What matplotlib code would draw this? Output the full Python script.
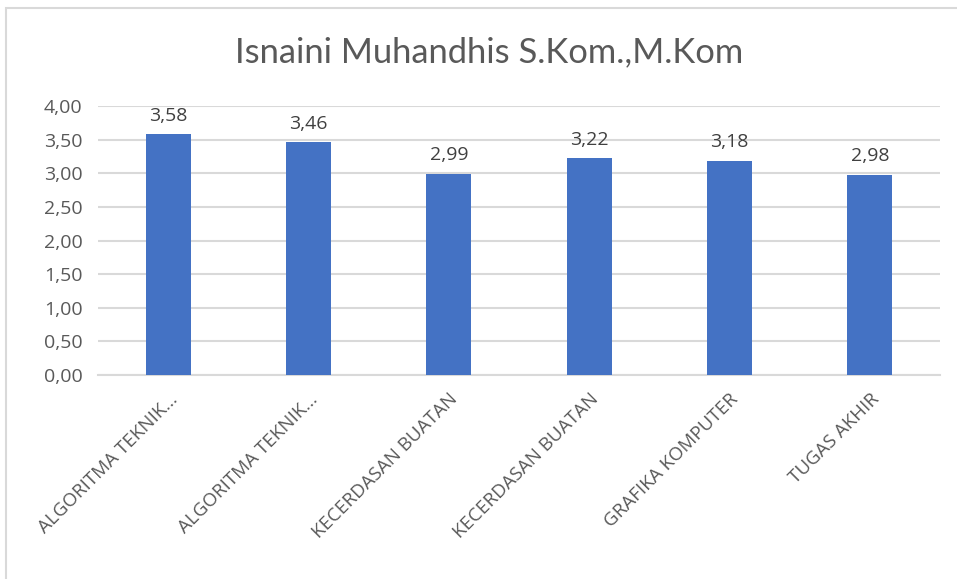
"""Bar chart of average scores per course for one lecturer."""

import matplotlib.pyplot as plt
from matplotlib.patches import Rectangle

title = "Isnaini Muhandhis S.Kom.,M.Kom"
courses = [
    "ALGORITMA TEKNIK...",
    "ALGORITMA TEKNIK...",
    "KECERDASAN BUATAN",
    "KECERDASAN BUATAN",
    "GRAFIKA KOMPUTER",
    "TUGAS AKHIR",
]
scores = [3.58, 3.46, 2.99, 3.22, 3.18, 2.98]
yticks = [0.0, 0.5, 1.0, 1.5, 2.0, 2.5, 3.0, 3.5, 4.0]

plt.rcParams["font.family"] = ["Open Sans", "DejaVu Sans"]

fig = plt.figure(figsize=(9.57, 5.79), dpi=100)
ax = fig.add_axes([0.1024, 0.3523, 0.8798, 0.4646])

x = range(len(courses))
bars = ax.bar(x, scores, width=0.32, color="#4472C4", zorder=3)

for b, v in zip(bars, scores):
    ax.annotate(f"{v:.2f}".replace(".", ","),
                (b.get_x() + b.get_width() / 2, v),
                xytext=(0, 7), textcoords="offset points",
                ha="center", va="bottom", fontsize=14, color="#404040",
                annotation_clip=False)

ax.set_xlim(-0.5, len(courses) - 0.5)
ax.set_ylim(0, 4)
ax.set_yticks(yticks)
ax.set_yticklabels([f"{t:.2f}".replace(".", ",") for t in yticks],
                   fontsize=14, color="#595959")
ax.set_xticks(list(x))
ax.set_xticklabels(courses, rotation=45, ha="right", va="top",
                   rotation_mode="anchor", fontsize=13.5, color="#595959")
ax.tick_params(axis="both", length=0)
ax.tick_params(axis="y", pad=11)
ax.tick_params(axis="x", pad=11)

ax.grid(axis="y", color="#d9d9d9", linewidth=1.5, zorder=0)
for s in ["top", "right", "left"]:
    ax.spines[s].set_visible(False)
ax.spines["bottom"].set_color("#d9d9d9")
ax.spines["bottom"].set_linewidth(1.5)

fig.text(0.511, 0.91, title, ha="center", va="center",
         fontsize=24.8, color="#595959", family=["Lato", "DejaVu Sans"])

# light border around the chart area
fig.patches.append(Rectangle((6 / 957, -0.05), 1.1, 1 - 8 / 579 + 0.05,
                             transform=fig.transFigure, fill=False,
                             edgecolor="#d9d9d9", linewidth=1.5))

plt.savefig("out.png", dpi=100)
print("Saved out.png")
